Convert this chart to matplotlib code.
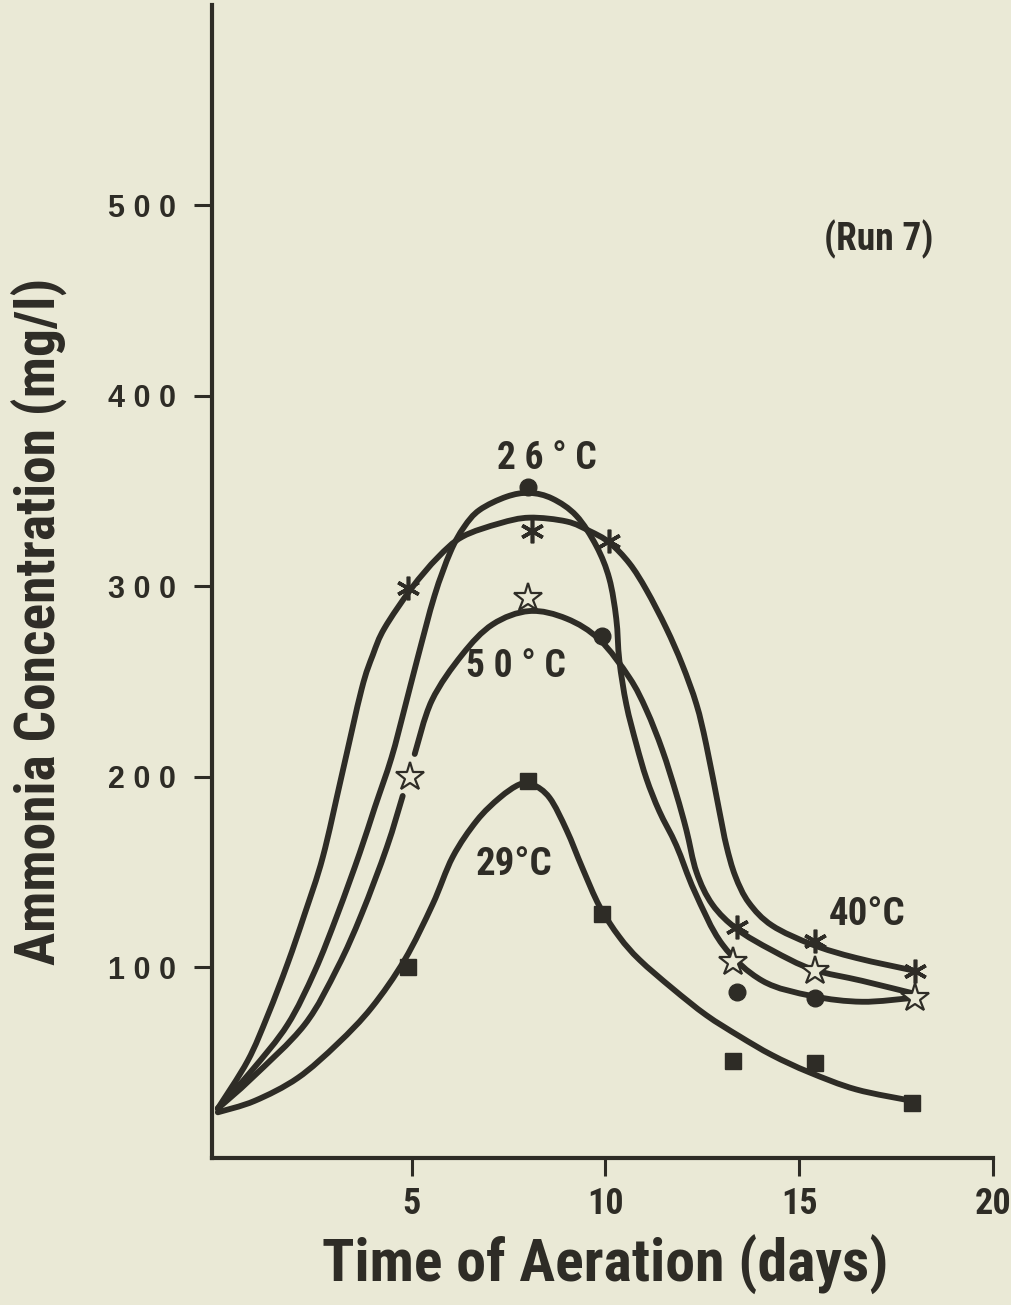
import numpy as np
import matplotlib
matplotlib.use("Agg")
import matplotlib.pyplot as plt
from matplotlib.path import Path
from matplotlib.patches import PathPatch

COND = ['Roboto Condensed', 'DejaVu Sans Condensed', 'Liberation Sans Narrow',
        'Roboto', 'DejaVu Sans']
plt.rcParams['font.family'] = COND
plt.rcParams['font.weight'] = 'bold'
plt.rcParams['font.stretch'] = 'condensed'

INK = '#2e2c26'
PAPER = '#eae9d6'

# measured points (days, mg/l)
c26_x = [8.0, 9.9, 13.4, 15.4]
c26_y = [352, 274, 87, 84]
c40_x = [4.9, 8.1, 10.1, 13.4, 15.4, 18.0]
c40_y = [299, 329, 324, 121, 114, 98]
c50_x = [4.95, 8.0, 13.3, 15.4, 18.0]
c50_y = [200, 294, 103, 98, 84]
c29_x = [4.9, 8.0, 9.9, 13.3, 15.4, 17.9]
c29_y = [100, 198, 128, 51, 50, 29]

# hand drawn curves
fit26_x = [0.0, 0.88, 1.8, 2.5, 3.09, 3.66, 4.05, 4.48, 4.82, 5.15, 5.59, 6.0, 6.35, 6.75,
           7.45, 8.04, 8.63, 9.25, 9.77, 10.1, 10.28, 10.36, 10.54, 10.8, 11.06, 11.39,
           11.83, 12.3, 13.02, 14.05, 15.34, 16.62, 17.91]
fit26_y = [26, 46, 70, 98, 128, 160, 184, 210, 236, 262, 295, 318, 331, 340,
           347, 349, 346, 337, 321, 304, 283, 261, 238, 217, 199, 182,
           164, 140, 112, 93, 85, 82, 84]

fit40_x = [0.0, 0.77, 1.29, 1.8, 2.24, 2.71, 3.2, 3.71, 4.0, 4.3, 5.0, 5.67,
           6.31, 7.27, 8.04, 9.0, 9.59, 10.1, 10.62, 11.06, 11.57, 11.98, 12.35, 12.6,
           12.94, 13.12, 13.35, 13.7, 14.3, 15.34, 16.47, 18.04]
fit40_y = [26, 51, 75, 102, 128, 158, 201, 246, 264, 278, 299, 315,
           326, 333, 336, 334, 329, 323, 312, 298, 278, 259, 238, 217,
           182, 164, 148, 134, 122, 112, 105, 98]

# 50 C curve is broken around the 5-day star
fit50a_x = [0.0, 0.88, 2.24, 3.09, 3.71, 4.36, 4.77]
fit50a_y = [26, 42, 70, 100, 128, 163, 190]
fit50b_x = [5.08, 5.52, 6.3, 7.09, 8.04, 9.0, 9.85, 10.62, 11.06, 11.47,
            11.83, 12.09, 12.35, 12.76, 13.4, 14.3, 15.34, 16.62, 18.02]
fit50b_y = [212, 240, 264, 280, 287, 283, 272, 252, 235, 214,
            191, 172, 150, 133, 120, 109, 99, 93, 86]

fit29_x = [0.0, 0.95, 2.06, 3.09, 3.97, 4.82, 5.54, 6.06, 6.68, 7.27, 7.78, 8.12, 8.56,
           9.0, 9.41, 9.85, 10.36, 10.88, 11.73, 12.6, 13.45, 14.3, 15.26, 16.47, 17.91]
fit29_y = [24, 30, 42, 60, 79, 104, 133, 158, 177, 189, 196, 196, 189,
           172, 152, 132, 116, 104, 89, 75, 64, 54, 45, 36, 30]

xticks = [5, 10, 15, 20]
yticks = [100, 200, 300, 400, 500]
ytick_labels = ['1 0 0', '2 0 0', '3 0 0', '4 0 0', '5 0 0']


def smooth_path(xs, ys):
    # Catmull-Rom through the traced vertices, drawn as cubic Bezier segments
    pts = np.column_stack([xs, ys]).astype(float)
    verts = [pts[0]]
    codes = [Path.MOVETO]
    n = len(pts)
    for i in range(n - 1):
        p0 = pts[i - 1] if i > 0 else pts[i]
        p1 = pts[i]
        p2 = pts[i + 1]
        p3 = pts[i + 2] if i + 2 < n else pts[i + 1]
        verts += [p1 + (p2 - p0) / 6.0, p2 - (p3 - p1) / 6.0, p2]
        codes += [Path.CURVE4] * 3
    return Path(verts, codes)


fig = plt.figure(figsize=(10.11, 13.05), dpi=100)
fig.patch.set_facecolor(PAPER)
ax = fig.add_axes([0.2097, 0.1126, 0.7725, 0.8836])
ax.set_facecolor(PAPER)

for xs, ys in [(fit26_x, fit26_y), (fit40_x, fit40_y), (fit50a_x, fit50a_y),
               (fit50b_x, fit50b_y), (fit29_x, fit29_y)]:
    ax.add_patch(PathPatch(smooth_path(xs, ys), fill=False, edgecolor=INK,
                           linewidth=4.2, capstyle='round', joinstyle='round', zorder=2))

ax.plot(c26_x, c26_y, linestyle='none', marker='o', markersize=12,
        color=INK, zorder=4)
ax.plot(c29_x, c29_y, linestyle='none', marker='s', markersize=11,
        color=INK, zorder=4)
ax.plot(c40_x, c40_y, linestyle='none', marker=(6, 2, 0), markersize=17,
        markeredgewidth=2.6, color=INK, zorder=4)
ax.plot(c50_x, c50_y, linestyle='none', marker='*', markersize=21,
        markerfacecolor=PAPER, markeredgecolor=INK, markeredgewidth=1.6, zorder=4)

ax.set_xlim(-0.15, 20)
ax.set_ylim(0, 605)
ax.spines['top'].set_visible(False)
ax.spines['right'].set_visible(False)
for s in ['left', 'bottom']:
    ax.spines[s].set_linewidth(3)
    ax.spines[s].set_color(INK)

ax.set_xticks(xticks)
ax.set_xticklabels([str(t) for t in xticks], fontsize=26, color=INK, fontweight='bold')
ax.set_yticks(yticks)
ax.set_yticklabels(ytick_labels, fontsize=22, color=INK,
                   family=['Liberation Sans', 'DejaVu Sans'], fontweight='bold',
                   fontstretch='normal')
ax.tick_params(axis='x', direction='out', length=13, width=2.2, color=INK, pad=7)
ax.tick_params(axis='y', direction='out', length=13, width=2.2, color=INK, pad=13)

ax.set_xlabel('Time of Aeration (days)', fontsize=43, color=INK, fontweight='bold')
ax.set_ylabel('Ammonia Concentration (mg/l)', fontsize=40, color=INK, fontweight='bold')
ax.xaxis.set_label_coords(0.503, -0.093)
ax.xaxis.label.set_va('center')
ax.yaxis.set_label_coords(-0.22, 0.465)
ax.yaxis.label.set_va('center')

ax.text(8.5, 367, '2 6 ° C', fontsize=27, color=INK, ha='center', va='center')
ax.text(7.7, 258, '5 0 ° C', fontsize=27, color=INK, ha='center', va='center')
ax.text(7.65, 154, '29°C', fontsize=28, color=INK, ha='center', va='center')
ax.text(16.75, 128, '40°C', fontsize=28, color=INK, ha='center', va='center')
ax.text(17.06, 482, '(Run 7)', fontsize=27, color=INK, ha='center', va='center')

fig.savefig('out.png', dpi=100, facecolor=PAPER)
